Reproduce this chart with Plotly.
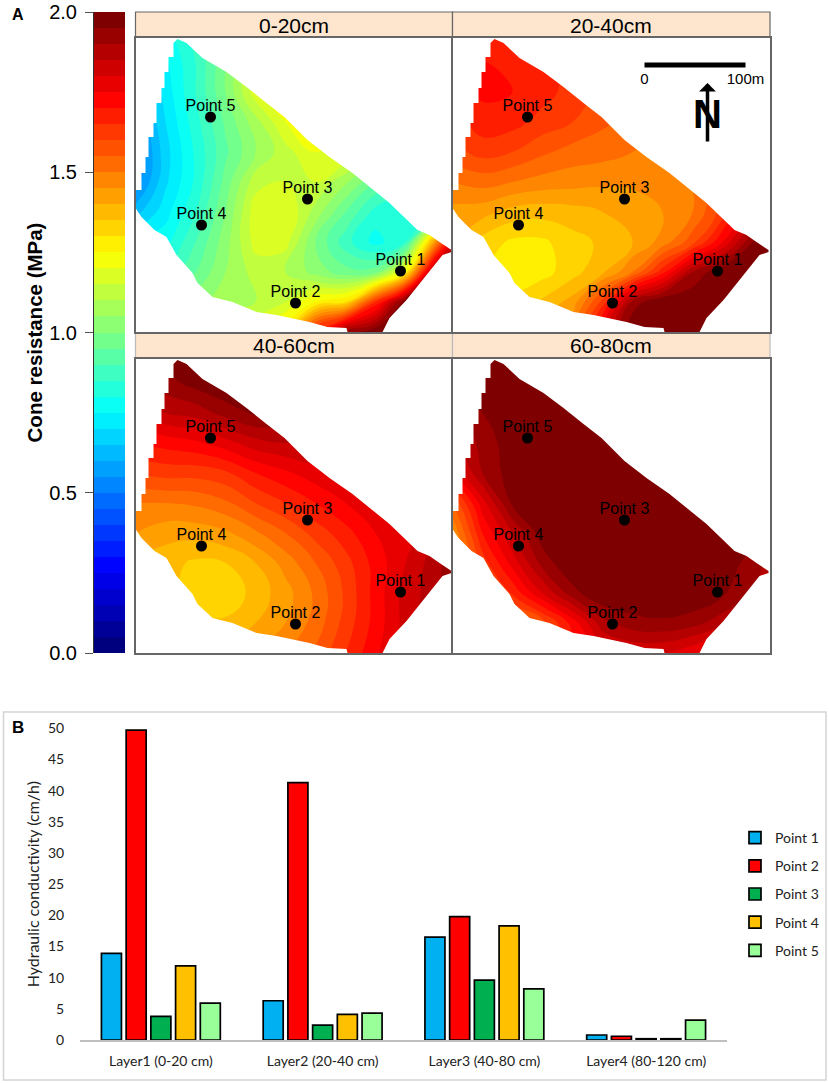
"""Cone resistance maps (A) and hydraulic conductivity bars (B)."""

import plotly.graph_objects as go

W, H = 829, 1083

# --- panel A data: field coordinates in metres ---
GRID_X = [0, 30, 60, 90, 120, 150, 180, 210, 240, 270, 300, 330]
GRID_Y = [300, 270, 240, 210, 180, 150, 120, 90, 60, 30, 0]

CONE_0_20 = [
    [0.65, 0.78, 0.88, 1.00, 1.15, 1.25, 1.25, 1.20, 1.10, 1.00, 1.00, 1.00],
    [0.62, 0.74, 0.85, 1.00, 1.15, 1.25, 1.25, 1.20, 1.10, 1.00, 1.00, 1.00],
    [0.58, 0.72, 0.85, 1.00, 1.18, 1.25, 1.25, 1.20, 1.10, 1.00, 1.00, 1.00],
    [0.54, 0.70, 0.83, 0.96, 1.08, 1.20, 1.25, 1.20, 1.10, 1.00, 1.00, 1.00],
    [0.50, 0.68, 0.81, 0.94, 1.05, 1.13, 1.20, 1.20, 1.10, 1.00, 1.00, 1.00],
    [0.52, 0.69, 0.81, 0.97, 1.13, 1.15, 1.15, 1.06, 0.95, 0.90, 0.90, 1.00],
    [0.63, 0.73, 0.85, 1.00, 1.18, 1.20, 1.08, 0.95, 0.83, 0.80, 0.90, 1.50],
    [0.75, 0.78, 0.90, 1.03, 1.17, 1.17, 1.00, 0.87, 0.78, 0.85, 1.45, 2.00],
    [0.80, 0.85, 0.95, 1.05, 1.12, 1.10, 1.03, 0.97, 0.98, 1.25, 1.95, 2.00],
    [0.90, 0.95, 1.03, 1.08, 1.10, 1.15, 1.25, 1.30, 1.65, 2.00, 2.00, 2.00],
    [1.00, 1.05, 1.10, 1.15, 1.20, 1.30, 1.70, 1.95, 2.00, 2.00, 2.00, 2.00],
]
CONE_20_40 = [
    [1.55, 1.62, 1.66, 1.66, 1.62, 1.58, 1.55, 1.52, 1.50, 1.60, 1.90, 2.00],
    [1.62, 1.70, 1.69, 1.67, 1.63, 1.58, 1.55, 1.52, 1.50, 1.60, 1.90, 2.00],
    [1.65, 1.71, 1.70, 1.67, 1.63, 1.58, 1.55, 1.52, 1.50, 1.60, 1.90, 2.00],
    [1.62, 1.68, 1.67, 1.63, 1.60, 1.56, 1.53, 1.50, 1.50, 1.60, 1.85, 2.00],
    [1.58, 1.62, 1.60, 1.56, 1.53, 1.52, 1.50, 1.50, 1.50, 1.60, 1.85, 2.00],
    [1.50, 1.52, 1.50, 1.48, 1.47, 1.46, 1.46, 1.47, 1.50, 1.60, 1.85, 2.00],
    [1.43, 1.42, 1.38, 1.37, 1.38, 1.40, 1.42, 1.45, 1.50, 1.62, 1.85, 2.00],
    [1.40, 1.33, 1.29, 1.29, 1.33, 1.36, 1.40, 1.47, 1.58, 1.75, 1.95, 2.00],
    [1.40, 1.31, 1.27, 1.28, 1.33, 1.39, 1.50, 1.68, 1.90, 2.00, 2.00, 2.00],
    [1.40, 1.35, 1.32, 1.36, 1.42, 1.62, 1.92, 2.00, 2.00, 2.00, 2.00, 2.00],
    [1.45, 1.42, 1.42, 1.45, 1.50, 1.80, 2.00, 2.00, 2.00, 2.00, 2.00, 2.00],
]
CONE_40_60 = [
    [1.90, 1.97, 2.00, 2.00, 2.00, 2.00, 2.00, 2.00, 2.00, 2.00, 2.00, 2.00],
    [1.88, 1.93, 1.97, 2.00, 2.00, 2.00, 2.00, 2.00, 2.00, 2.00, 2.00, 2.00],
    [1.80, 1.85, 1.87, 1.92, 1.96, 1.95, 1.95, 1.95, 1.95, 1.95, 1.95, 1.95],
    [1.70, 1.72, 1.74, 1.78, 1.83, 1.85, 1.85, 1.85, 1.85, 1.85, 1.90, 1.95],
    [1.60, 1.62, 1.62, 1.64, 1.70, 1.74, 1.78, 1.78, 1.78, 1.80, 1.85, 1.95],
    [1.50, 1.50, 1.51, 1.54, 1.60, 1.65, 1.70, 1.75, 1.78, 1.80, 1.85, 1.95],
    [1.45, 1.42, 1.42, 1.44, 1.49, 1.55, 1.62, 1.68, 1.75, 1.78, 1.85, 1.95],
    [1.40, 1.37, 1.34, 1.35, 1.40, 1.47, 1.55, 1.63, 1.72, 1.80, 1.88, 1.97],
    [1.50, 1.38, 1.32, 1.31, 1.37, 1.43, 1.51, 1.61, 1.72, 1.82, 1.88, 2.00],
    [1.50, 1.42, 1.37, 1.36, 1.40, 1.45, 1.52, 1.62, 1.72, 1.82, 1.90, 1.95],
    [1.50, 1.45, 1.42, 1.43, 1.46, 1.50, 1.56, 1.65, 1.74, 1.82, 1.90, 1.95],
]
CONE_60_80 = [
    [2.00, 2.00, 2.00, 2.00, 2.00, 2.00, 2.00, 2.00, 2.00, 2.00, 2.00, 2.00],
    [1.95, 2.00, 2.00, 2.00, 2.00, 2.00, 2.00, 2.00, 2.00, 2.00, 2.00, 2.00],
    [1.88, 1.95, 2.00, 2.00, 2.00, 2.00, 2.00, 2.00, 2.00, 2.00, 2.00, 2.00],
    [1.83, 1.92, 1.98, 2.00, 2.00, 2.00, 2.00, 2.00, 2.00, 2.00, 2.00, 2.00],
    [1.75, 1.90, 1.98, 2.00, 2.00, 2.00, 2.00, 2.00, 2.00, 2.00, 2.00, 2.00],
    [1.55, 1.78, 1.96, 2.00, 2.00, 2.00, 2.00, 2.00, 2.00, 2.00, 2.00, 2.00],
    [1.45, 1.70, 1.85, 1.98, 2.00, 2.00, 2.00, 2.00, 2.00, 2.00, 1.97, 1.90],
    [1.40, 1.62, 1.77, 1.92, 2.00, 2.00, 2.00, 2.00, 2.00, 1.98, 1.93, 1.85],
    [1.40, 1.50, 1.66, 1.80, 1.93, 2.00, 2.00, 2.00, 2.00, 1.96, 1.90, 1.85],
    [1.40, 1.45, 1.50, 1.58, 1.72, 1.88, 1.93, 1.94, 1.92, 1.87, 1.85, 1.80],
    [1.40, 1.45, 1.50, 1.58, 1.68, 1.77, 1.80, 1.80, 1.76, 1.72, 1.80, 1.80],
]
DEPTHS = ["0-20cm", "20-40cm", "40-60cm", "60-80cm"]

FIELD_X = [42, 38, 38, 33, 33, 29, 29, 26, 26, 21, 21, 18, 18, 13, 13, 10, 10, 6, 6, 0, 0, 6, 19, 31, 41, 57,
           62, 77, 97, 121, 141, 174, 192, 211, 212, 247, 254, 271, 294, 307, 316, 316, 304, 294, 282, 254,
           217, 194, 172, 149, 131, 111, 91, 67, 51]
FIELD_Y = [293, 289, 275, 275, 260, 260, 244, 244, 229, 229, 209, 209, 195, 195, 175, 175, 159, 159, 142, 142,
           124, 115, 102, 95, 77, 59, 49, 35, 30, 20, 17, 10, 5, 4, 0, 0, 14, 32, 60, 77, 80, 82, 90, 97, 102,
           129, 159, 175, 192, 215, 229, 245, 260, 274, 289]

POINT_NAMES = ["Point 1", "Point 2", "Point 3", "Point 4", "Point 5"]
POINT_X = [265, 160, 172, 66, 75]
POINT_Y = [61, 29, 133, 107, 215]

CBAR_LEVELS = [i * 0.05 + 0.025 for i in range(40)]
CBAR_TICKS = [0, 0.5, 1, 1.5, 2]

JET = [[0, "#00007F"], [0.125, "#0000FF"], [0.25, "#007FFF"], [0.375, "#00FFFF"], [0.5, "#7FFF7F"],
       [0.625, "#FFFF00"], [0.75, "#FF7F00"], [0.875, "#FF0000"], [1, "#7F0000"]]

# --- panel B data ---
LAYERS = ["Layer1 (0-20 cm)", "Layer2 (20-40 cm)", "Layer3 (40-80 cm)", "Layer4 (80-120 cm)"]
K_POINT1 = [13.9, 6.3, 16.5, 0.8]
K_POINT2 = [49.7, 41.3, 19.8, 0.6]
K_POINT3 = [3.8, 2.4, 9.6, 0.2]
K_POINT4 = [11.9, 4.1, 18.3, 0.2]
K_POINT5 = [5.9, 4.3, 8.2, 3.2]
BAR_COLORS = ["#00B0F0", "#FF0000", "#00B050", "#FFC000", "#99FF99"]

SANS = "Liberation Sans"
CALIBRI = "Lato"
FRAME = "#666666"
CLEAR = "rgba(0,0,0,0)"


def xfrac(px):
    return px / W


def yfrac(px):
    return 1 - px / H


fig = go.Figure()

# panel layout in pixels: left, right, top, bottom of each map
panels = [(135.5, 452.5, 38, 332), (452.5, 770, 38, 332), (135.5, 452.5, 359, 653), (452.5, 770, 359, 653)]
shapes = []
annotations = []

for i, (z, depth, box) in enumerate(zip([CONE_0_20, CONE_20_40, CONE_40_60, CONE_60_80], DEPTHS, panels), start=1):
    xa, ya = f"x{i}", f"y{i}"
    fig.add_trace(go.Contour(
        x=GRID_X, y=GRID_Y, z=z, xaxis=xa, yaxis=ya,
        colorscale=JET, zmin=0.025, zmax=1.975, showscale=False, autocontour=False,
        contours=dict(start=0, end=2, size=0.05, coloring="fill", showlines=False),
        line=dict(width=0, smoothing=1.3), hoverinfo="skip",
    ))
    # white mask round the field outline
    fig.add_trace(go.Scatter(
        x=[-5, -5, 325, 325, -5] + FIELD_X + [FIELD_X[0], -5],
        y=[-5, 305, 305, -5, -5] + FIELD_Y + [FIELD_Y[0], -5],
        xaxis=xa, yaxis=ya, mode="lines", fill="toself", fillcolor="white",
        line=dict(width=0), hoverinfo="skip", showlegend=False,
    ))
    fig.add_trace(go.Scatter(
        x=POINT_X, y=POINT_Y, xaxis=xa, yaxis=ya, mode="markers",
        marker=dict(color="black", size=11), showlegend=False, hoverinfo="skip",
    ))
    fig.add_trace(go.Scatter(
        x=POINT_X, y=[v + 10 for v in POINT_Y], xaxis=xa, yaxis=ya, mode="text", text=POINT_NAMES,
        textposition="middle center", textfont=dict(family=SANS, size=16, color="black"),
        showlegend=False, hoverinfo="skip",
    ))
    axis_x = dict(domain=[xfrac(box[0]), xfrac(box[1])], range=[0, box[1] - box[0]], visible=True,
                  showticklabels=False, ticks="", showgrid=False, zeroline=False,
                  showline=True, linecolor=FRAME, linewidth=1.5, mirror=True, anchor=ya)
    axis_y = dict(domain=[yfrac(box[3]), yfrac(box[2])], range=[0, 294],
                  showticklabels=False, ticks="", showgrid=False, zeroline=False,
                  showline=True, linecolor=FRAME, linewidth=1.5, mirror=True, anchor=xa)
    fig.update_layout({f"xaxis{i}": axis_x, f"yaxis{i}": axis_y})

    # depth strip above each map
    strip_top = 12 if box[2] == 38 else 332
    shapes.append(dict(type="rect", xref="paper", yref="paper", layer="below",
                       x0=xfrac(box[0]), x1=xfrac(box[1]), y0=yfrac(box[2]), y1=yfrac(strip_top),
                       fillcolor="#FDE5CE", line=dict(color=FRAME if i < 3 else "#BBBBBB", width=1.2)))
    annotations.append(dict(text=depth, xref="paper", yref="paper", showarrow=False,
                            xanchor="center", yanchor="middle",
                            x=xfrac((box[0] + box[1]) / 2), y=yfrac((box[2] + strip_top) / 2),
                            font=dict(family=SANS, size=21, color="black")))

# scale bar and north arrow, drawn in the 20-40cm map
fig.add_trace(go.Scatter(x=[192, 293], y=[267, 267], xaxis="x2", yaxis="y2", mode="lines",
                         line=dict(color="black", width=5), showlegend=False, hoverinfo="skip"))
fig.add_trace(go.Scatter(x=[192, 293], y=[252, 252], xaxis="x2", yaxis="y2", mode="text", text=["0", "100m"],
                         textfont=dict(family=SANS, size=15, color="black"), showlegend=False, hoverinfo="skip"))
annotations.append(dict(text="<b>N</b>", xref="x2", yref="y2", x=255, y=218, showarrow=False,
                        xanchor="center", yanchor="middle",
                        font=dict(family=SANS, size=40, color="black")))
annotations.append(dict(text="", xref="x2", yref="y2", axref="x2", ayref="y2", x=255, y=249, ax=255, ay=189,
                        showarrow=True, arrowhead=1, arrowsize=0.8, arrowwidth=3.5, arrowcolor="black"))

# colour bar as a heat strip on its own axis
fig.add_trace(go.Heatmap(
    x=[0], y=CBAR_LEVELS, z=[[v] for v in CBAR_LEVELS], xaxis="x5", yaxis="y5",
    colorscale=JET, zmin=0.025, zmax=1.975, showscale=False, hoverinfo="skip",
))
fig.update_layout(
    xaxis5=dict(domain=[xfrac(94), xfrac(125)], visible=False, anchor="y5"),
    yaxis5=dict(domain=[yfrac(653), yfrac(12)], range=[0, 2], tickvals=CBAR_TICKS, tickformat=".1f", anchor="x5",
                ticks="outside", ticklen=8, tickcolor="#555555", showgrid=False, zeroline=False,
                showline=True, linecolor="#333333", linewidth=1, ticklabelstandoff=4,
                tickfont=dict(family=SANS, size=20, color="black"),
                title=dict(text="<b>Cone resistance (MPa)</b>", standoff=1,
                           font=dict(family=SANS, size=20.5, color="black"))),
)

# panel B bars
for name, values, color in zip(POINT_NAMES, [K_POINT1, K_POINT2, K_POINT3, K_POINT4, K_POINT5], BAR_COLORS):
    fig.add_trace(go.Bar(
        x=LAYERS, y=values, name=name, xaxis="x6", yaxis="y6", legendgroup=name,
        marker=dict(color=color, line=dict(color="black", width=1.7)),
    ))
fig.update_layout(
    barmode="group", bargap=0.236, bargroupgap=0.19,
    xaxis6=dict(domain=[xfrac(80), xfrac(727)], anchor="y6", showgrid=False, ticks="outside", ticklen=7,
                tickcolor=CLEAR, showline=True, linecolor="#BFBFBF", linewidth=1.5,
                tickfont=dict(family=CALIBRI, size=14, color="#222222")),
    yaxis6=dict(domain=[yfrac(1040), yfrac(728.3)], range=[0, 50], dtick=5, anchor="x6", showgrid=False,
                zeroline=False, showline=False, ticks="outside", ticklen=12, tickcolor=CLEAR,
                tickfont=dict(family=CALIBRI, size=14, color="#222222"),
                title=dict(text="Hydraulic conductivity (cm/h)", standoff=4,
                           font=dict(family=CALIBRI, size=16, color="#222222"))),
    legend=dict(x=xfrac(735), y=yfrac(822), xanchor="left", yanchor="top", tracegroupgap=7,
                font=dict(family=CALIBRI, size=14, color="#222222"), bgcolor=CLEAR),
    showlegend=True,
)

# outer frame of panel B and the panel letters
shapes.append(dict(type="rect", xref="paper", yref="paper", layer="below",
                   x0=xfrac(3.5), x1=xfrac(826), y0=yfrac(1080), y1=yfrac(712),
                   line=dict(color="#D4D4D4", width=1.5)))
annotations.append(dict(text="<b>A</b>", xref="paper", yref="paper", x=xfrac(18), y=yfrac(15), showarrow=False,
                        xanchor="center", yanchor="middle", font=dict(family=SANS, size=16, color="black")))
annotations.append(dict(text="<b>B</b>", xref="paper", yref="paper", x=xfrac(18), y=yfrac(727), showarrow=False,
                        xanchor="center", yanchor="middle", font=dict(family=SANS, size=17, color="black")))

fig.update_layout(
    width=W, height=H, margin=dict(l=0, r=0, t=0, b=0, autoexpand=False),
    paper_bgcolor="white", plot_bgcolor=CLEAR,
    shapes=shapes, annotations=annotations,
)

fig.write_html("out.html", config={"displayModeBar": False}, post_script="document.body.style.margin = '0';")
